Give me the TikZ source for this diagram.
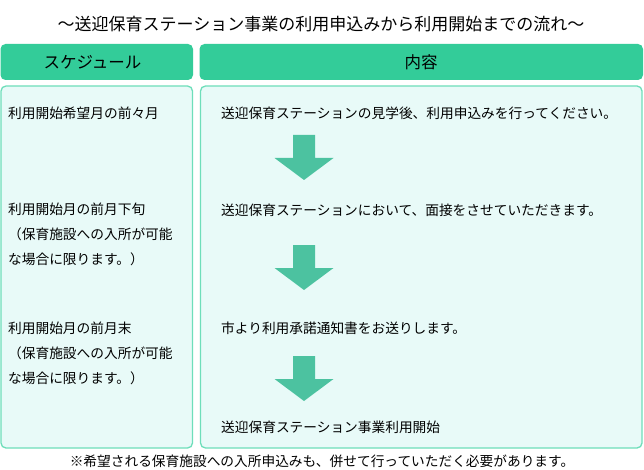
\documentclass[tikz,border=0pt]{standalone}
\usepackage{fontspec}
\setmainfont{Noto Sans CJK JP}
\definecolor{hdr}{RGB}{51,204,153}
\definecolor{bodyfill}{RGB}{232,250,248}
\definecolor{bodyline}{RGB}{110,222,186}
\definecolor{arrowc}{RGB}{76,194,160}
\begin{document}
\begin{tikzpicture}[x=1pt,y=-1pt,
  hdrbox/.style={fill=hdr,rounded corners=5pt},
  bodybox/.style={draw=bodyline,line width=1.3pt,fill=bodyfill,rounded corners=5pt},
  titletxt/.style={font=\fontsize{17}{20}\selectfont,inner sep=0pt},
  hdrtxt/.style={font=\fontsize{16.5}{20}\selectfont,inner sep=0pt},
  bodytxt/.style={font=\fontsize{13.7}{16}\selectfont,inner sep=0pt,anchor=west},
  downarrow/.pic={\fill[arrowc] (-11,0) -- (11,0) -- (11,23) -- (29.5,23) -- (0,45) -- (-29.5,23) -- (-11,23) -- cycle;}]
\useasboundingbox (0,0) rectangle (644,470);
\fill[white] (0,0) rectangle (644,470);
% title
\node[titletxt] (title) at (321,24) {～送迎保育ステーション事業の利用申込みから利用開始までの流れ～};
% headers
\fill[hdrbox] (0.5,44) rectangle (193,80);
\fill[hdrbox] (199.5,44) rectangle (643,80);
\node[hdrtxt] (hsched) at (92.5,62) {スケジュール};
\node[hdrtxt] (hcont) at (421,62) {内容};
% bodies
\draw[bodybox] (1,86) rectangle (192.5,448);
\draw[bodybox] (200.5,86) rectangle (642,448);
% left column
\node[bodytxt] (l1) at (8,113.5) {利用開始希望月の前々月};
\node[bodytxt] (l2a) at (8,209) {利用開始月の前月下旬};
\node[bodytxt] (l2b) at (8,234) {（保育施設への入所が可能};
\node[bodytxt] (l2c) at (8,259) {な場合に限ります。）};
\node[bodytxt] (l3a) at (8,328) {利用開始月の前月末};
\node[bodytxt] (l3b) at (8,353) {（保育施設への入所が可能};
\node[bodytxt] (l3c) at (8,378) {な場合に限ります。）};
% right column
\node[bodytxt] (r1) at (221,113.5) {送迎保育ステーションの見学後、利用申込みを行ってください。};
\node[bodytxt] (r2) at (221,210) {送迎保育ステーションにおいて、面接をさせていただきます。};
\node[bodytxt] (r3) at (221,328) {市より利用承諾通知書をお送りします。};
\node[bodytxt] (r4) at (221,427) {送迎保育ステーション事業利用開始};
% arrows
\pic at (304,135) {downarrow};
\pic at (304,245) {downarrow};
\pic at (304,356) {downarrow};
% footnote
\node[bodytxt,anchor=center] (foot) at (322,461) {※希望される保育施設への入所申込みも、併せて行っていただく必要があります。};
\end{tikzpicture}
\end{document}
